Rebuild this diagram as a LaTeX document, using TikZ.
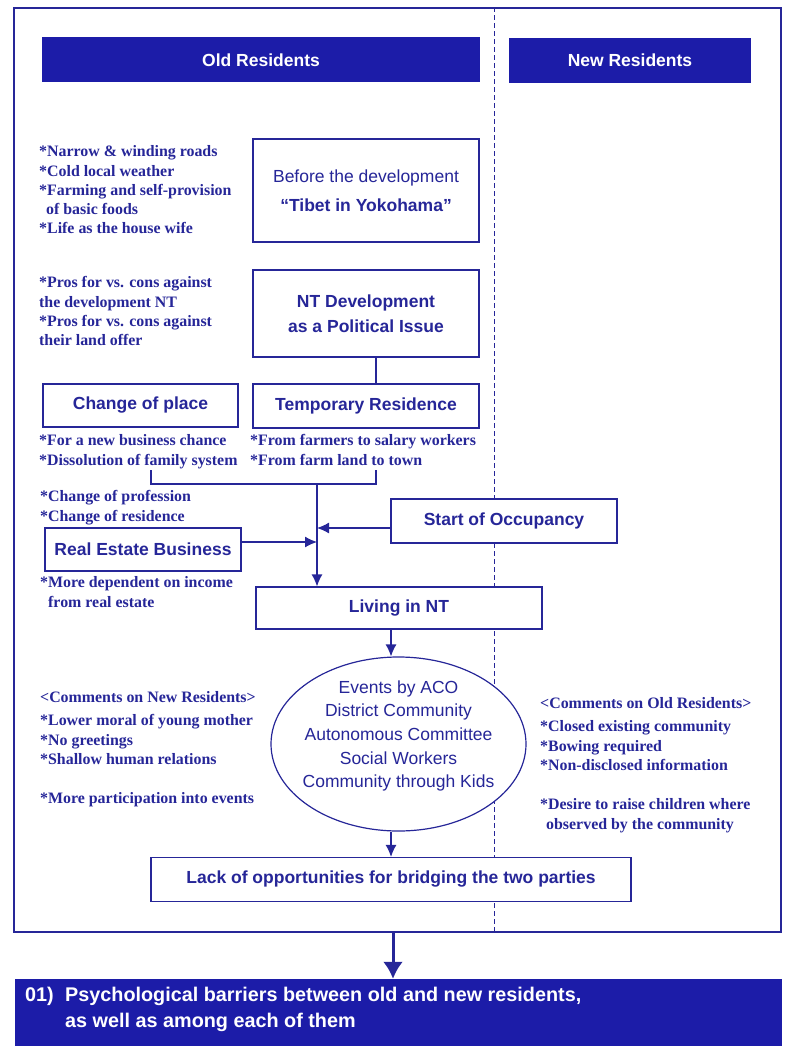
\documentclass[tikz,border=0pt]{standalone}
\usepackage{fontspec}
\setmainfont{Liberation Serif}
\setsansfont{Liberation Sans}
\usetikzlibrary{arrows.meta,shapes.geometric}
\definecolor{inkblue}{RGB}{38,38,152}
\definecolor{barblue}{RGB}{28,28,168}

\begin{document}
\begin{tikzpicture}[
x=1pt, y=-1pt,
box/.style={
% The shape:
rectangle,
% The border:
draw=inkblue, line width=1.2pt,
% The filling:
fill=white,
% Font
text=inkblue,
font=\fontsize{17.5}{21}\selectfont\sffamily\bfseries,
align=center
},
head/.style={
rectangle, inner sep=0pt,
% solid blue band
fill=barblue,
text=white,
font=\fontsize{17.5}{21}\selectfont\sffamily\bfseries
},
note/.style={
anchor=north west, inner sep=0pt,
text=inkblue, align=left,
font=\fontsize{15.9}{19.3}\selectfont\rmfamily\bfseries
},
link/.style={draw=inkblue, line width=1.2pt},
flow/.style={link, -{Latex[length=12pt,width=11pt]}}
]
\useasboundingbox (0,0) rectangle (787,1046);

% frame and dashed divider
\node[draw=inkblue, line width=1.2pt, inner sep=0pt,
  minimum width=767pt, minimum height=924pt] (panel) at (397.5,470) {};
\draw[link, line width=0.8pt, dash pattern=on 5pt off 3pt]
  (494,0 |- panel.north) -- (494,0 |- panel.south);

% column heads
\node[head, minimum width=438pt, minimum height=45pt] (oldhead) at (261,60) {Old Residents};
\node[head, minimum width=242pt, minimum height=45pt] (newhead) at (630,60.5) {New Residents};

% boxes
\node[box, minimum width=226pt, minimum height=103pt] (before) at (366,190.5)
  {{\mdseries Before the development}\\[8.5pt]“Tibet in Yokohama”};
\node[box, minimum width=226pt, minimum height=87pt] (ntdev) at (366,313.5)
  {NT Development\\[3.5pt]as a Political Issue};
\node[box, minimum width=195pt, minimum height=43pt] (place) at (140.5,405.5) {Change of place};
\node[box, minimum width=226pt, minimum height=44pt] (temp) at (366,406) {Temporary Residence};
\node[box, minimum width=226pt, minimum height=44pt] (occupancy) at (504,521) {Start of Occupancy};
\node[box, minimum width=196pt, minimum height=43pt] (realestate) at (143,549.5) {Real Estate Business};
\node[box, minimum width=286pt, minimum height=42pt] (living) at (399,608) {Living in NT};
\node[box, ellipse, minimum width=255pt, minimum height=174pt] (events) at (398.5,744) {};
\node[text=inkblue, align=center, inner sep=0pt,
  font=\fontsize{17.5}{23.7}\selectfont\sffamily] (eventlist) at (398.5,736)
  {Events by ACO\\District Community\\Autonomous Committee\\Social Workers\\Community through Kids};
\node[box, minimum width=480pt, minimum height=44pt] (lack) at (391,879.5)
  {Lack of opportunities for bridging the two parties};

% notes
\node[note] (roadnotes) at (39,145.5)
  {{*}Narrow \& winding roads\\{*}Cold local weather\\{*}Farming and self-provision\\\hspace*{7pt}of basic foods\\{*}Life as the house wife};
\node[note] (pronotes) at (39,276.5)
  {{*}Pros for vs. cons against\\the development NT\\{*}Pros for vs. cons against\\their land offer};
\node[note] (placenotes) at (39,434.5)
  {{*}For a new business chance\\{*}Dissolution of family system};
\node[note] (tempnotes) at (250,434.5)
  {{*}From farmers to salary workers\\{*}From farm land to town};
\node[note] (jobnotes) at (40,490.5)
  {{*}Change of profession\\{*}Change of residence};
\node[note] (incomenotes) at (40,576.5)
  {{*}More dependent on income\\\hspace*{8pt}from real estate};
\node[note, font=\fontsize{15.9}{19.5}\selectfont\rmfamily\bfseries] (newcomments) at (40,691.5)
  {<Comments on New Residents>\\[3.5pt]{*}Lower moral of young mother\\{*}No greetings\\{*}Shallow human relations\\[19.5pt]{*}More participation into events};
\node[note, font=\fontsize{15.9}{19.5}\selectfont\rmfamily\bfseries] (oldcomments) at (540,697.5)
  {<Comments on Old Residents>\\[3.5pt]{*}Closed existing community\\{*}Bowing required\\{*}Non-disclosed information\\[19.5pt]{*}Desire to raise children where\\\hspace*{6pt}observed by the community};

% result band
\node[head, minimum width=767pt, minimum height=67pt] (result) at (398.5,1012.5) {};
\node[note, text=white, font=\fontsize{19.8}{26}\selectfont\sffamily\bfseries] (resultnum) at (25,986.5) {01)};
\node[note, text=white, font=\fontsize{19.8}{26}\selectfont\sffamily\bfseries] (resulttext) at (65,986.5)
  {Psychological barriers between old and new residents,\\as well as among each of them};

% connectors
\coordinate (brkleft) at (151,470);
\coordinate (brkright) at (376,470);
\coordinate (join) at (317,484);
\draw[link] ([xshift=10pt]ntdev.south) -- ([xshift=10pt]temp.north);
\draw[link] (brkleft) |- (join) -| (brkright);
\draw[flow] (join) -- (join |- living.north);
\coordinate (occin) at ([yshift=-7pt]occupancy.west);
\draw[flow] (occin) -- (occin -| join);
\coordinate (realout) at ([yshift=7.5pt]realestate.east);
\draw[flow] (realout) -- (realout -| join);
\draw[flow] (living.south -| lack) -- (events.north -| lack);
\draw[flow] (events.south -| lack) -- (lack.north);
\draw[link, line width=3pt, -{Latex[length=17pt,width=20pt]}]
  ([xshift=2pt]panel.south -| lack) -- ([xshift=2pt]result.north -| lack);
\end{tikzpicture}
\end{document}
